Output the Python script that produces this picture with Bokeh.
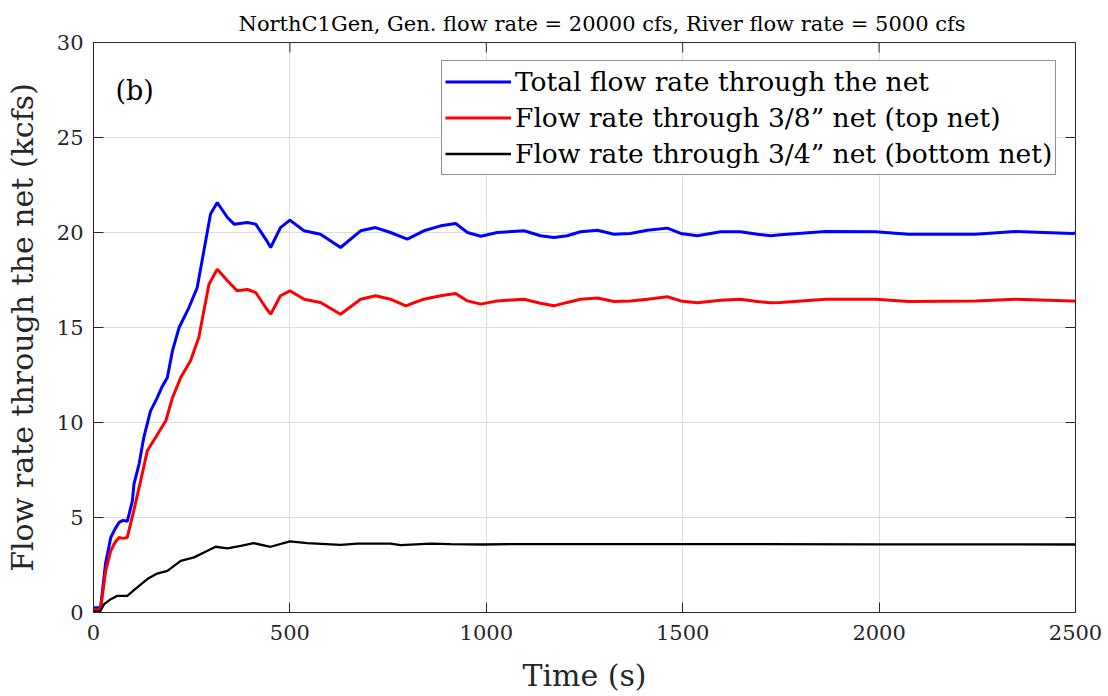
from bokeh.plotting import figure
from bokeh.models import Range1d, FixedTicker, Legend, LegendItem, Label
from bokeh.embed import file_html
from bokeh.resources import INLINE

# ---------------- data ----------------
t_total = [0, 10, 18, 31, 44, 55, 65, 75, 86, 99, 103, 116, 128, 145, 162, 175, 188, 201,
           218, 243, 264, 281, 298, 315, 341, 358, 392, 413, 440, 451, 476, 500, 536, 578,
           629, 680, 718, 756, 799, 841, 884, 922, 952, 986, 1028, 1096, 1138, 1172, 1206,
           1240, 1283, 1325, 1367, 1410, 1461, 1495, 1537, 1597, 1647, 1690, 1724, 1749,
           1864, 1991, 2075, 2245, 2347, 2492, 2500]
q_total = [0.25, 0.25, 0.26, 2.63, 3.95, 4.4, 4.74, 4.85, 4.8, 5.88, 6.76, 7.81, 9.21, 10.6,
           11.3, 11.9, 12.37, 13.77, 15.0, 16.05, 17.1, 19.04, 20.97, 21.58, 20.79, 20.44,
           20.53, 20.44, 19.6, 19.21, 20.26, 20.65, 20.09, 19.91, 19.21, 20.09, 20.26, 20.0,
           19.65, 20.09, 20.35, 20.47, 20.0, 19.8, 20.0, 20.09, 19.83, 19.74, 19.83, 20.04,
           20.12, 19.91, 19.95, 20.12, 20.23, 19.95, 19.83, 20.04, 20.04, 19.91, 19.83,
           19.88, 20.05, 20.04, 19.91, 19.91, 20.05, 19.95, 19.97]

t_top = [0, 10, 18, 31, 44, 55, 65, 75, 86, 103, 120, 137, 158, 184, 201, 222, 247, 268,
         281, 294, 315, 341, 366, 392, 413, 440, 451, 476, 500, 536, 578, 629, 680, 718,
         756, 795, 841, 884, 922, 952, 986, 1028, 1096, 1138, 1172, 1206, 1240, 1283, 1325,
         1367, 1410, 1461, 1495, 1537, 1597, 1647, 1690, 1724, 1749, 1864, 1991, 2075,
         2245, 2347, 2492, 2500]
q_top = [0.15, 0.15, 0.18, 2.19, 3.25, 3.7, 3.95, 3.9, 3.95, 5.4, 6.93, 8.51, 9.21, 10.09,
         11.3, 12.37, 13.25, 14.47, 15.88, 17.28, 18.07, 17.46, 16.93, 17.0, 16.84, 16.0,
         15.7, 16.67, 16.93, 16.49, 16.32, 15.7, 16.49, 16.67, 16.49, 16.14, 16.49, 16.67,
         16.79, 16.4, 16.23, 16.4, 16.49, 16.28, 16.14, 16.32, 16.49, 16.55, 16.37, 16.4,
         16.49, 16.62, 16.4, 16.3, 16.44, 16.49, 16.37, 16.3, 16.32, 16.49, 16.49, 16.37,
         16.4, 16.49, 16.4, 16.4]

t_bottom = [0, 10, 18, 27, 44, 61, 86, 103, 137, 162, 188, 222, 256, 281, 311, 341, 375,
            408, 451, 500, 544, 629, 672, 756, 782, 858, 909, 994, 1062, 1500, 2000, 2500]
q_bottom = [0.05, 0.05, 0.09, 0.44, 0.7, 0.88, 0.88, 1.18, 1.76, 2.05, 2.19, 2.72, 2.9,
            3.16, 3.46, 3.37, 3.51, 3.65, 3.46, 3.74, 3.65, 3.56, 3.63, 3.63, 3.55, 3.62,
            3.6, 3.58, 3.6, 3.6, 3.59, 3.58]

series_labels = ["Total flow rate through the net",
                 "Flow rate through 3/8\u201d net (top net)",
                 "Flow rate through 3/4\u201d net (bottom net)"]
x_ticks = [0, 500, 1000, 1500, 2000, 2500]
y_ticks = [0, 5, 10, 15, 20, 25, 30]
x_min, x_max = 0, 2500
y_min, y_max = 0, 30
title_text = "NorthC1Gen, Gen. flow rate = 20000 cfs, River flow rate = 5000 cfs"
x_label = "Time (s)"
y_label = "Flow rate through the net (kcfs)"

FONT = "DejaVu Serif"
DARK = "#262626"
TICK_PX = 10
FRAME_W, FRAME_H = 982, 570

p = figure(width=1108, height=696, output_backend="svg", toolbar_location=None,
           x_range=Range1d(x_min, x_max), y_range=Range1d(y_min, y_max),
           min_border_left=93, min_border_right=33, min_border_top=42,
           min_border_bottom=84, background_fill_color="white",
           border_fill_color="white")

p.title.text = title_text
p.title.text_font = FONT
p.title.text_font_size = "21px"
p.title.text_font_style = "normal"
p.title.text_color = "black"
p.title.align = "left"
p.title.offset = 145
p.title.standoff = 13

p.outline_line_color = DARK
p.outline_line_width = 1
p.outline_line_alpha = 1

for ax in (p.xaxis[0], p.yaxis[0]):
    ax.axis_line_color = DARK
    ax.major_tick_line_color = DARK
    ax.major_tick_in = TICK_PX
    ax.major_tick_out = 0
    ax.minor_tick_line_color = None
    ax.major_label_text_font = FONT
    ax.major_label_text_font_size = "21px"
    ax.major_label_text_color = DARK
    ax.axis_label_text_font = FONT
    ax.axis_label_text_font_size = "30px"
    ax.axis_label_text_font_style = "normal"
    ax.axis_label_text_color = DARK

p.xaxis[0].ticker = FixedTicker(ticks=x_ticks)
p.yaxis[0].ticker = FixedTicker(ticks=y_ticks)
p.xaxis[0].axis_label = x_label
p.yaxis[0].axis_label = y_label
p.xaxis[0].major_label_standoff = 12
p.yaxis[0].major_label_standoff = 10
p.xaxis[0].axis_label_standoff = 15
p.yaxis[0].axis_label_standoff = 14

p.xgrid.ticker = FixedTicker(ticks=x_ticks)
p.ygrid.ticker = FixedTicker(ticks=y_ticks)
for g in (p.xgrid[0], p.ygrid[0]):
    g.grid_line_color = "#dedede"
    g.grid_line_width = 1

# mirrored tick marks on the top and right edges of the box
tl_y = TICK_PX * (y_max - y_min) / FRAME_H
tl_x = TICK_PX * (x_max - x_min) / FRAME_W
p.segment(x0=x_ticks, y0=[y_max] * len(x_ticks), x1=x_ticks,
          y1=[y_max - tl_y] * len(x_ticks), line_color=DARK, line_width=1)
p.segment(x0=[x_max] * len(y_ticks), y0=y_ticks, x1=[x_max - tl_x] * len(y_ticks),
          y1=y_ticks, line_color=DARK, line_width=1)

r_total = p.line(t_total, q_total, line_color="#0000ff", line_width=3)
r_top = p.line(t_top, q_top, line_color="#ff0000", line_width=3)
r_bottom = p.line(t_bottom, q_bottom, line_color="#000000", line_width=2.3)

legend = Legend(items=[LegendItem(label=series_labels[0], renderers=[r_total]),
                       LegendItem(label=series_labels[1], renderers=[r_top]),
                       LegendItem(label=series_labels[2], renderers=[r_bottom])],
                location=(348, 437), orientation="vertical")
legend.label_text_font = FONT
legend.label_text_font_size = "26.5px"
legend.label_text_color = "black"
legend.glyph_width = 66
legend.glyph_height = 35
legend.label_height = 35
legend.label_standoff = 4
legend.spacing = 1
legend.padding = 3
legend.margin = 0
legend.border_line_color = DARK
legend.border_line_width = 1
legend.background_fill_color = "white"
legend.background_fill_alpha = 1
p.add_layout(legend, "center")

p.add_layout(Label(x=22, y=522, x_units="screen", y_units="screen", text="(b)",
                   text_font=FONT, text_font_size="27px", text_color="black",
                   text_baseline="middle"))

open("out.html", "w").write(file_html(p, INLINE))
